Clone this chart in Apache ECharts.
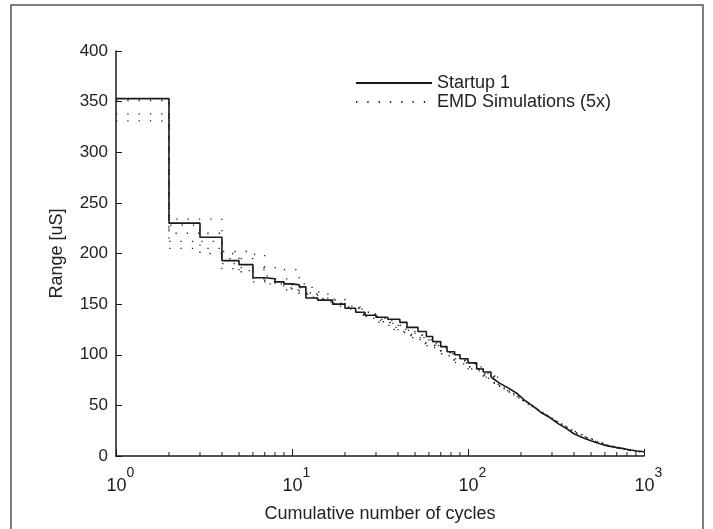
<!DOCTYPE html>
<html>
<head>
<meta charset="UTF-8">
<title>Range vs cumulative cycles</title>
<style>
html,body{margin:0;padding:0;background:#fff;}
#main{width:713px;height:529px;}
</style>
</head>
<body>
<div id="main"></div>
<script src="https://cdn.jsdelivr.net/npm/echarts@6/dist/echarts.min.js"></script>
<script>
// Startup 1 (measured), [cycle, range]
var startup1 = [[1,353],[2,230],[3,216],[4,193],[5,189],[6,176],[7,175],[8,172],[9,170],[10,169],[11,167],[12,156],
	[14,154],[17,150],[20,146],[23,142],[26,139],[30,137],[35,135],[41,132],[45,127],[52,123],[58,118],[63,113],
	[70,108],[76,103],[84,100],[90,96],[100,92],[112,86],[122,83],[135,78],[151,72],[170,67],[189,62],[210,55],
	[235,49],[260,43],[292,38],[325,32],[363,27],[400,22],[449,18],[500,15],[562,12],[620,10],[693,8.5],[780,7],
	[890,5.2],[1000,4.2]];

// EMD simulations (5x)
var sim1 = [[1,353],[2,234],[4,202],[6,199],[7,186],[9,184],[11,170],[13,162],[16,155],[20,147],[25,140],[30,135],
	[36,129],[43,123],[50,117],[60,109],[70,102],[85,94],[100,88],[120,80],[140,73],[170,65],[200,56],[240,47],
	[280,40],[330,33],[380,26],[440,21],[520,16],[600,12],[700,8.5],[820,6],[1000,3.8]];
var sim2 = [[1,353],[2,228],[3,220],[4,190],[5,186],[7,178],[8,175],[10,166],[12,160],[15,153],[19,146],[24,139],
	[30,132],[38,125],[45,119],[55,111],[65,104],[80,95],[100,86],[120,79],[150,69],[180,61],[220,51],[260,44],
	[300,37],[360,29],[420,22],[500,16],[580,12],[680,8.5],[800,6],[950,4]];
var sim3 = [[1,351],[2,220],[3,212],[4,195],[6,184],[7,172],[9,166],[11,160],[14,154],[18,148],[22,142],[28,136],
	[35,129],[42,122],[50,115],[62,107],[75,99],[90,91],[110,84],[130,77],[160,67],[190,59],[230,50],[270,42],
	[320,34],[370,28],[430,22],[500,16],[590,11.5],[700,8],[850,5],[1000,3.5]];
var sim4 = [[1,338],[2,212],[3,205],[4,185],[5,182],[6,172],[8,168],[10,161],[13,156],[16,151],[20,145],[26,138],
	[33,131],[40,124],[48,117],[58,109],[70,101],[85,92],[100,86],[125,78],[150,70],[180,62],[215,54],[250,46],
	[300,37],[350,30],[410,23],[480,18],[560,13],[650,9.5],[780,6.5],[1000,4]];
var sim5 = [[1,331],[2,205],[3,200],[5,183],[6,175],[7,170],[9,164],[12,157],[15,152],[19,147],[24,140],[30,134],
	[37,127],[45,120],[55,112],[66,104],[80,95],[96,88],[115,81],[140,72],[165,65],[200,56],[240,48],[285,40],
	[335,32],[390,26],[460,20],[540,14.5],[630,10.5],[740,7.5],[880,5],[1000,3.5]];

var yTicks = [0,50,100,150,200,250,300,350,400];
var minorTicks = [2,3,4,5,6,7,8,9,20,30,40,50,60,70,80,90,200,300,400,500,600,700,800,900];

var simName = 'EMD Simulations (5x)';
var fontFam = '"Liberation Sans", Arial, sans-serif';
var stepUntil = 150;   // drawn as steps below this cycle count, as a plain line above

var myChart = echarts.init(document.getElementById('main'));

var series = [];
function addCurve(name, data, lineStyle, z){
	var head = data.filter(function(d){ return d[0] <= stepUntil; });
	var tail = data.filter(function(d){ return d[0] >= stepUntil; });
	if(tail.length && tail[0][0] > stepUntil){
		tail.unshift(head[head.length - 1]);
	}
	series.push({name: name, type: 'line', step: 'end', symbol: 'none', data: head,
		lineStyle: lineStyle, itemStyle: {color: lineStyle.color}, z: z});
	series.push({name: name, type: 'line', symbol: 'none', data: tail,
		lineStyle: lineStyle, itemStyle: {color: lineStyle.color}, z: z});
}
addCurve('Startup 1', startup1, {color: '#1a1a1a', width: 1.6}, 5);
[sim1, sim2, sim3, sim4, sim5].forEach(function(s){
	addCurve(simName, s, {color: '#222', width: 1.3, type: [1.3, 10]}, 3);
});
// log minor ticks on the x axis (2..9 in each decade)
series.push({
	type: 'custom',
	silent: true,
	data: minorTicks.map(function(v){ return [v, 0]; }),
	renderItem: function(params, api){
		var p = api.coord([api.value(0), 0]);
		return {
			type: 'line',
			shape: {x1: p[0], y1: p[1], x2: p[0], y2: p[1] - 4},
			style: {stroke: '#1a1a1a', lineWidth: 1}
		};
	},
	z: 6
});

myChart.setOption({
	animation: false,
	textStyle: {fontFamily: fontFam},
	graphic: [{
		type: 'rect',
		shape: {x: 11, y: 5, width: 692, height: 540},
		style: {fill: 'none', stroke: '#555', lineWidth: 1.5},
		silent: true
	}],
	grid: {left: 116, top: 51, right: 69, bottom: 73},
	legend: {
		orient: 'vertical',
		left: 355,
		top: 74,
		padding: 0,
		itemWidth: 76,
		itemHeight: 14,
		itemGap: 1,
		itemStyle: {opacity: 0},
		data: ['Startup 1', simName],
		textStyle: {fontSize: 18, color: '#222', fontFamily: fontFam}
	},
	xAxis: {
		type: 'log',
		logBase: 10,
		min: 1,
		max: 1000,
		name: 'Cumulative number of cycles',
		nameLocation: 'middle',
		nameGap: 49,
		nameTextStyle: {fontSize: 18, color: '#222'},
		axisLine: {lineStyle: {color: '#1a1a1a', width: 1.5}},
		axisTick: {inside: true, length: 7, lineStyle: {color: '#1a1a1a'}},
		splitLine: {show: false},
		axisLabel: {
			margin: 10,
			formatter: function(v){
				var e = Math.round(Math.log(v) / Math.LN10);
				return '{e|}{b|10}{s|' + e + '}';
			},
			rich: {
				e: {width: 9},
				b: {fontSize: 18, color: '#222', verticalAlign: 'bottom', lineHeight: 19},
				s: {fontSize: 14, color: '#222', verticalAlign: 'top', padding: [0, 0, 15, 0]}
			}
		}
	},
	yAxis: {
		type: 'value',
		min: 0,
		max: 400,
		interval: 50,
		name: 'Range [uS]',
		nameLocation: 'middle',
		nameGap: 50,
		nameTextStyle: {fontSize: 18, color: '#222'},
		axisLine: {show: true, lineStyle: {color: '#1a1a1a', width: 1.5}},
		axisTick: {show: true, inside: true, length: 6, lineStyle: {color: '#1a1a1a'}},
		splitLine: {show: false},
		axisLabel: {
			fontSize: 17,
			color: '#222',
			margin: 8,
			formatter: function(v){ return yTicks.indexOf(v) >= 0 ? String(v) : ''; }
		}
	},
	series: series
});
</script>
</body>
</html>
